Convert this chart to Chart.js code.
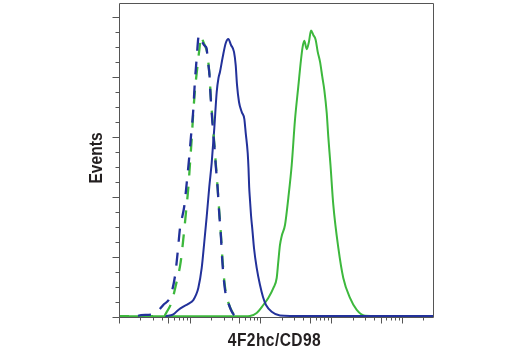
<!DOCTYPE html>
<html>
<head>
<meta charset="utf-8">
<script src="https://cdn.jsdelivr.net/npm/chart.js@4.4.1/dist/chart.umd.min.js"></script>
<style>
  html, body { margin: 0; padding: 0; background: #ffffff; }
  #wrap { width: 520px; height: 350px; }
</style>
</head>
<body>
<div id="wrap"><canvas id="c" width="520" height="350"></canvas></div>
<script>
// ---- Axis ranges (log fluorescence intensity, event counts) ----
const xMin = 1;
const xMax = 26550;
const yMin = 0;
const yMax = 209.3;

// ---- Axis titles ----
const xTitle = "4F2hc/CD98";
const yTitle = "Events";

// ---- Tick marks (no tick labels in the original) ----
const xTicksLong = [1, 5, 10, 50, 100, 500, 1000, 5000, 10000];
const xTicksShort = [2, 3, 4, 6, 7, 8, 9, 20, 30, 40, 60, 70, 80, 90, 200, 300, 400, 600, 700, 800, 900,
                     2000, 3000, 4000, 6000, 7000, 8000, 9000, 20000];
const yTicksLong = [0, 40, 80, 120, 160, 200];
const yTicksShort = [10, 20, 30, 50, 60, 70, 90, 100, 110, 130, 140, 150, 170, 180, 190];

// ---- Series: isotype control, blue (dashed) ----
const isoBlueX = [1.8, 1.98, 2.93, 3.44, 4.09, 5.09, 5.99, 6.54, 7.05, 7.52, 8.11, 8.77, 9.44, 10.09, 10.83,
                  11.41, 12.14, 12.79, 13.30, 14.19, 15.04, 15.89, 16.70, 17.54, 18.41, 18.84, 19.65, 20.63,
                  21.66, 22.53, 24.04, 25.07, 26.77, 27.93, 29.80, 31.48, 33.96, 37.07, 39.92, 45.08, 52];
const isoBlueY = [0.8, 1.3, 1.7, 4, 8, 13.3, 27.3, 43.3, 59.3, 66, 74, 89.3, 104.7, 120.7, 137.3,
                  156, 172.7, 186, 188, 184.7, 182, 180.7, 179.3, 170, 161.3, 151.3, 138, 124.7,
                  112.7, 101.3, 85.3, 71.3, 52.7, 37.3, 22, 14, 9.3, 4.7, 2, 0.8, 0.6];

// ---- Series: isotype control, green (dashed) ----
const isoGreenX = [1, 4.19, 4.57, 5.38, 6.12, 7.21, 7.85, 8.57, 9.23, 9.75, 10.31, 10.76, 11.41, 12.45,
                   13.30, 13.83, 14.19, 14.89, 15.89, 16.98, 17.82, 18.58, 19.32, 20.28, 21.33, 22.39,
                   23.88, 25.07, 26.77, 28.12, 30.00, 31.79, 34.18, 37.67, 40.85, 46.53, 52];
const isoGreenY = [0.5, 0.7, 3.3, 10, 20.7, 36.7, 52, 70, 86, 102, 118.7, 133.3, 150, 167.3,
                   179.3, 186, 187.3, 184, 180.7, 176.7, 168.7, 158, 144.7, 131.3, 118, 104.7,
                   87.3, 72.7, 54, 38, 22.7, 14.7, 9.3, 4.3, 1.7, 0.7, 0.6];

// ---- Series: 4F2hc/CD98, blue (solid) ----
const cd98BlueX = [4.33, 4.77, 5.67, 6.67, 7.85, 9.23, 10.87, 11.86, 12.79, 14.29, 15.54, 16.79, 18.28,
                   19.77, 21.53, 23.28, 24.66, 25.88, 28.31, 31.19, 33.96, 37.07, 40.85, 43.15, 45.08,
                   48.08, 52.48, 57.15, 59.81, 63.83, 65.5, 66.95, 68.77, 71.06, 74.61, 78.32, 85.53,
                   95.26, 105, 115.8, 139.3, 182.5, 252.9, 26550];
const cd98BlueY = [0.7, 0.8, 1.8, 4.7, 6.9, 8.7, 11.3, 14.7, 19.3, 32.7, 50, 66.7, 86.7,
                   102.7, 126, 150, 159.3, 163.3, 173.3, 182.5, 185.3, 181.3, 176.7, 168, 154.7,
                   143.3, 136.7, 132, 122.7, 109.3, 99.3, 86.7, 78, 68, 57.3, 46, 32.7,
                   21.3, 13.3, 8, 3.5, 1, 0.7, 0.7];

// ---- Series: 4F2hc/CD98, green (solid) ----
const cd98GreenX = [1, 58.45, 68.77, 85.53, 106.0, 124.7, 146.9, 164.0, 172.6, 182.5, 193.2, 214.8,
                    239.3, 267.3, 297.2, 331.1, 361.4, 382.0, 402.7, 435.5, 468.8, 501.2, 539.5,
                    583.4, 622.3, 671.4, 722.8, 772.7, 835.6, 879.0, 944.1, 1035, 1219, 1432, 1782,
                    2218, 2904, 26550];
const cd98GreenY = [0.5, 0.5, 0.7, 2.7, 8, 12.7, 19.3, 26, 36.7, 48, 54, 61.3,
                    79.3, 101.3, 131.3, 153.5, 171.3, 180.2, 184.2, 178.5, 183.5, 190.9, 188,
                    184.7, 176.9, 170.2, 160.2, 151.3, 136, 120.2, 101.3, 74.7, 46, 26, 12.7,
                    4.7, 0.9, 0.5];

// ---- Styles ----
const blue = "#22319a";
const green = "#3db83d";
const axisColor = "#555555";
const textColor = "#231f20";

function zip(xs, ys) { return xs.map((x, i) => ({ x: x, y: ys[i] })); }

// Choose a condensed bold font if available, else squeeze a regular bold face
const probe = document.createElement("canvas").getContext("2d");
function fontAvailable(name) {
  probe.font = "bold 40px monospace";
  const w0 = probe.measureText("Events 4F2hc/CD98").width;
  probe.font = 'bold 40px "' + name + '", monospace';
  return probe.measureText("Events 4F2hc/CD98").width !== w0;
}
const hasNarrow = fontAvailable("Liberation Sans Narrow");
const labelFont = hasNarrow ? 'bold 19px "Liberation Sans Narrow"' : 'bold 19px "Liberation Sans", Arial, sans-serif';
const squeeze = hasNarrow ? 1 : 0.82;

const frame = {
  id: "frame",
  afterDatasetsDraw(chart) {
    const ctx = chart.ctx;
    const a = chart.chartArea;
    const xs = chart.scales.x, ys = chart.scales.y;
    const L = a.left - 0.5, R = a.right + 0.5, T = a.top + 0.5, B = a.bottom + 0.5;
    ctx.save();
    ctx.strokeStyle = axisColor;
    ctx.lineWidth = 1;
    ctx.beginPath();
    ctx.moveTo(L, T); ctx.lineTo(R, T); ctx.lineTo(R, B); ctx.lineTo(L, B); ctx.closePath();
    ctx.stroke();
    ctx.beginPath();
    const xt = (vals, len) => vals.forEach(v => {
      const p = Math.round(xs.getPixelForValue(v)) - 0.5;
      ctx.moveTo(p, B); ctx.lineTo(p, B + len);
    });
    xt(xTicksLong, 6); xt(xTicksShort, 3);
    const yt = (vals, len) => vals.forEach(v => {
      const p = Math.round(ys.getPixelForValue(v)) + 0.5;
      ctx.moveTo(L, p); ctx.lineTo(L - len, p);
    });
    yt(yTicksLong, 7); yt(yTicksShort, 4);
    ctx.stroke();

    ctx.fillStyle = textColor;
    ctx.font = labelFont;
    ctx.textAlign = "center";
    ctx.textBaseline = "alphabetic";
    // x title
    ctx.save();
    ctx.translate((a.left + a.right) / 2 - 2, 346);
    ctx.scale(squeeze, 1);
    try { ctx.letterSpacing = "0.5px"; } catch (e) {}
    ctx.fillText(xTitle, 0, 0);
    ctx.restore();
    // y title
    ctx.save();
    ctx.translate(102, 158);
    ctx.rotate(-Math.PI / 2);
    ctx.scale(squeeze, 1);
    ctx.fillText(yTitle, 0, 0);
    ctx.restore();
    ctx.restore();
  }
};

new Chart(document.getElementById("c"), {
  type: "line",
  data: {
    datasets: [
      { label: "Isotype control (blue)", data: zip(isoBlueX, isoBlueY), borderColor: blue,
        borderWidth: 2.3, borderDash: [13, 11], borderDashOffset: 0 },
      { label: "Isotype control (green)", data: zip(isoGreenX, isoGreenY), borderColor: green,
        borderWidth: 2.3, borderDash: [13, 11], borderDashOffset: 4 },
      { label: "4F2hc/CD98 (blue)", data: zip(cd98BlueX, cd98BlueY), borderColor: blue,
        borderWidth: 2 },
      { label: "4F2hc/CD98 (green)", data: zip(cd98GreenX, cd98GreenY), borderColor: green,
        borderWidth: 2 }
    ]
  },
  options: {
    responsive: false,
    devicePixelRatio: 1,
    animation: false,
    layout: { padding: { left: 120, right: 87, top: 3, bottom: 33 } },
    elements: {
      point: { radius: 0, hoverRadius: 0 },
      line: { fill: false, cubicInterpolationMode: "monotone", borderCapStyle: "butt" }
    },
    plugins: { legend: { display: false }, tooltip: { enabled: false }, title: { display: false } },
    scales: {
      x: { type: "logarithmic", min: xMin, max: xMax, display: false },
      y: { type: "linear", min: yMin, max: yMax, display: false }
    }
  },
  plugins: [frame]
});
</script>
</body>
</html>
